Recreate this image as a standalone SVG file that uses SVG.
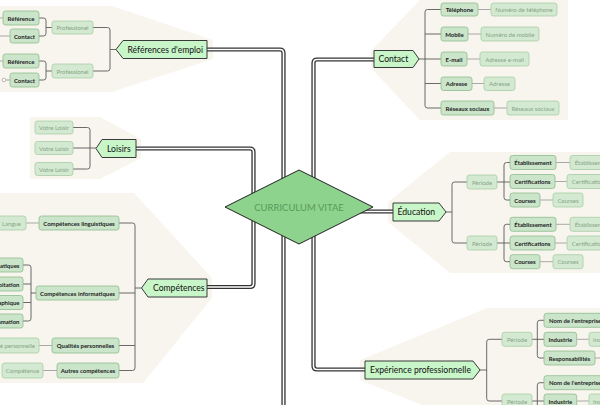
<svg xmlns="http://www.w3.org/2000/svg" xmlns:xlink="http://www.w3.org/1999/xlink" width="600" height="405" viewBox="0 0 600 405">
<style>
.bg{fill:#f8f5ee}
.l1 polygon{fill:#c8f6c8;stroke:#3a3a3a;stroke-width:1}
.l1 text{font-family:Lato,"Noto Sans",sans-serif;font-size:8.6px;fill:#111}
.lab rect{fill:#cbe5ca;stroke:#8dbb8c;stroke-width:0.8}
.lab text{font-family:Lato,"Noto Sans",sans-serif;font-size:6px;font-weight:bold;fill:#222;text-anchor:middle;dominant-baseline:central}
.val rect{fill:#d3e9d1;stroke:#a7cda5;stroke-width:0.8}
.val text{font-family:Lato,"Noto Sans",sans-serif;font-size:6px;fill:#86a586;text-anchor:middle;dominant-baseline:central}
.c2{fill:none;stroke:#5a5a5a;stroke-width:0.9}
.c3{fill:none;stroke:#a9a9a9;stroke-width:1}
.mo{fill:none;stroke:#333;stroke-width:4.2}
.mi{fill:none;stroke:#fff;stroke-width:1.6}
</style>
<defs>
<path id="m1" d="M207,49.5 H280 Q283.5,49.5 283.5,53 V410"/>
<path id="m2" d="M374,59.5 H317 Q313.5,59.5 313.5,63 V366 Q313.5,369.5 317,369.5 H365"/>
<path id="m3" d="M136,148.5 H250 Q253.5,148.5 253.5,152 V283.5 Q253.5,287 250,287 H207"/>
<path id="m4" d="M300,211.5 H393"/>
</defs>

<g id="backgrounds">
<polygon class="bg" points="0,6 112,6 213,40 213,59 112,92 0,92"/>
<polygon class="bg" points="30,117 100,117 141,139 141,158 100,179 30,179"/>
<polygon class="bg" points="0,193 134,193 212,278 212,298 143,383 0,383"/>
<polygon class="bg" points="420,0 568,0 568,120 420,120 371,68 371,51"/>
<polygon class="bg" points="450,152 600,152 600,273 450,273 388,222 388,202"/>
<polygon class="bg" points="487,308 600,308 600,405 422,405 360,380 360,360"/>
</g>

<g id="connectors">
<use xlink:href="#m1" class="mo"/><use xlink:href="#m1" class="mi"/>
<use xlink:href="#m2" class="mo"/><use xlink:href="#m2" class="mi"/>
<use xlink:href="#m3" class="mo"/><use xlink:href="#m3" class="mi"/>
<use xlink:href="#m4" class="mo"/><use xlink:href="#m4" class="mi"/>
<!-- Références -->
<path class="c2" d="M116,49.5 H110 M93,27.5 H107.5 Q110,27.5 110,30 V68.5 Q110,71 107.5,71 H93"/>
<path class="c2" d="M52,27.5 H46 M39,18 H43.5 Q46,18 46,20.5 V33.5 Q46,36 43.5,36 H39"/>
<path class="c2" d="M52,71 H46 M39,61 H43.5 Q46,61 46,63.5 V77.5 Q46,80 43.5,80 H39"/>
<path class="c3" d="M0,18 H3 M0,36 H10 M0,61 H3 M6,80 H10"/>
<circle cx="4" cy="80" r="1.8" fill="#fff" stroke="#999" stroke-width="0.7"/>
<!-- Loisirs -->
<path class="c2" d="M73,127.5 H87.5 Q90,127.5 90,130 V166.5 Q90,169 87.5,169 H73 M73,148 H96"/>
<!-- Compétences -->
<path class="c2" d="M119,223 H132.5 Q135,223 135,225.5 V368 Q135,370.5 132.5,370.5 H119 M119,293 H135 M119,345.5 H135 M141.5,288 H135"/>
<path class="c2" d="M23,265 H28.5 Q31,265 31,267.5 V318.5 Q31,321 28.5,321 H23 M23,284 H31 M23,302.5 H31 M31,293 H36"/>
<path class="c3" d="M26,223 H39 M39,345.5 H52 M43,370.5 H57"/>
<!-- Contact -->
<path class="c2" d="M419,59 H441 M441,9.5 H427.5 Q425,9.5 425,12 V105.5 Q425,108 427.5,108 H441 M425,34 H441 M425,83.5 H441"/>
<path class="c3" d="M478,9.5 H491 M468,34 H481 M467,59 H480 M472,83.5 H484 M494,108 H507"/>
<!-- Éducation -->
<path class="c2" d="M446,212 H452 M467,182 H454.5 Q452,182 452,184.5 V240.5 Q452,243 454.5,243 H467"/>
<path class="c2" d="M497,182 H510 M510,162.5 H506.5 Q504,162.5 504,165 V197.5 Q504,200 506.5,200 H510"/>
<path class="c2" d="M497,243 H510 M510,224.3 H506.5 Q504,224.3 504,226.8 V259.2 Q504,261.7 506.5,261.7 H510"/>
<path class="c3" d="M556,162.5 H570 M555,181.5 H567 M540,200 H553 M556,224.3 H570 M555,243 H567 M540,261.7 H553"/>
<!-- Expérience -->
<path class="c2" d="M480,370 H486.7 M502,339.3 H489.2 Q486.7,339.3 486.7,341.8 V398.5 Q486.7,401 489.2,401 H502"/>
<path class="c2" d="M532,339.3 H544 M544,320.3 H539.8 Q537.3,320.3 537.3,322.8 V355.5 Q537.3,358 539.8,358 H544"/>
<path class="c2" d="M532,401 H544 M544,382.7 H539.8 Q537.3,382.7 537.3,385.2 V410"/>
<path class="c3" d="M576.7,339.3 H589 M595,358 H605 M576.7,401 H589"/>
</g>

<g id="center">
<polygon points="225,207 299,170 373,207 299,244" fill="#8dd38d" stroke="#222" stroke-width="1"/>
<text x="299" y="207" font-family="Lato,'Noto Sans',sans-serif" font-size="9.5" fill="#5b995b" text-anchor="middle" dominant-baseline="central">CURRICULUM VITAE</text>
</g>

<g id="n-references" class="l1">
<polygon points="123,40.5 207,40.5 207,58.5 123,58.5 116,49.5"/>
<text x="127.5" y="52.6">Références d'emploi</text>
</g>
<g id="n-loisirs" class="l1">
<polygon points="102,139.5 136,139.5 136,157.5 102,157.5 96,148.5"/>
<text x="107" y="151.6">Loisirs</text>
</g>
<g id="n-competences" class="l1">
<polygon points="148,279 207,279 207,297 148,297 141.5,288"/>
<text x="153" y="291.1">Compétences</text>
</g>
<g id="n-contact" class="l1">
<polygon points="374,50.5 413,50.5 419,59 413,67.5 374,67.5"/>
<text x="378.5" y="62.1">Contact</text>
</g>
<g id="n-education" class="l1">
<polygon points="393,203 439,203 446,212 439,221 393,221"/>
<text x="397.5" y="215.1">Éducation</text>
</g>
<g id="n-experience" class="l1">
<polygon points="365,361 473,361 480,370 473,379 365,379"/>
<text x="370" y="373.1">Expérience professionnelle</text>
</g>

<!-- Références children -->
<g id="n-ref1" class="lab"><rect x="3" y="11" width="36" height="14" rx="2.5"/><text x="21" y="18">Référence</text></g>
<g id="n-con1" class="lab"><rect x="10" y="29" width="29" height="14" rx="2.5"/><text x="24.5" y="36">Contact</text></g>
<g id="n-pro1" class="val"><rect x="52" y="21" width="41" height="13" rx="2.5"/><text x="72.5" y="27.5">Professionel</text></g>
<g id="n-ref2" class="lab"><rect x="3" y="54" width="36" height="14" rx="2.5"/><text x="21" y="61">Référence</text></g>
<g id="n-con2" class="lab"><rect x="10" y="73" width="29" height="14" rx="2.5"/><text x="24.5" y="80">Contact</text></g>
<g id="n-pro2" class="val"><rect x="52" y="64" width="41" height="14" rx="2.5"/><text x="72.5" y="71">Professionel</text></g>

<!-- Loisirs children -->
<g id="n-loi1" class="val"><rect x="35" y="121" width="38" height="13" rx="2.5"/><text x="54" y="127.5">Votre Loisir</text></g>
<g id="n-loi2" class="val"><rect x="35" y="141.5" width="38" height="13" rx="2.5"/><text x="54" y="148">Votre Loisir</text></g>
<g id="n-loi3" class="val"><rect x="35" y="162.5" width="38" height="13" rx="2.5"/><text x="54" y="169">Votre Loisir</text></g>

<!-- Compétences children -->
<g id="n-ling" class="lab"><rect x="39" y="216" width="80" height="14" rx="2.5"/><text x="79" y="223">Compétences linguistiques</text></g>
<g id="n-langue" class="val"><rect x="-4" y="216" width="30" height="14" rx="2.5"/><text x="11.5" y="223">Langue</text></g>
<g id="n-info" class="lab"><rect x="36" y="286" width="83" height="14" rx="2.5"/><text x="77.5" y="293">Compétences informatiques</text></g>
<g id="n-info1" class="lab"><rect x="-70" y="258" width="93" height="14" rx="2.5"/><text x="19.5" y="265" style="text-anchor:end">Langages informatiques</text></g>
<g id="n-info2" class="lab"><rect x="-70" y="277" width="93" height="14" rx="2.5"/><text x="19.5" y="284" style="text-anchor:end">Systèmes d'exploitation</text></g>
<g id="n-info3" class="lab"><rect x="-70" y="295.5" width="93" height="14" rx="2.5"/><text x="19.5" y="302.5" style="text-anchor:end">Conception graphique</text></g>
<g id="n-info4" class="lab"><rect x="-70" y="314" width="93" height="14" rx="2.5"/><text x="19.5" y="321" style="text-anchor:end">Programmation</text></g>
<g id="n-qual" class="lab"><rect x="52" y="338" width="67" height="15" rx="2.5"/><text x="85.5" y="345.5">Qualités personnelles</text></g>
<g id="n-qualv" class="val"><rect x="-30" y="338" width="69" height="15" rx="2.5"/><text x="35" y="345.5" style="text-anchor:end">Qualité personnelle</text></g>
<g id="n-autres" class="lab"><rect x="57" y="363" width="62" height="15" rx="2.5"/><text x="88" y="370.5">Autres compétences</text></g>
<g id="n-autresv" class="val"><rect x="2" y="363" width="41" height="15" rx="2.5"/><text x="22.5" y="370.5">Compétence</text></g>

<!-- Contact children -->
<g id="n-tel" class="lab"><rect x="441" y="3" width="37" height="13" rx="2.5"/><text x="459.5" y="9.5">Téléphone</text></g>
<g id="n-telv" class="val"><rect x="491" y="3" width="66" height="13" rx="2.5"/><text x="524" y="9.5">Numéro de téléphone</text></g>
<g id="n-mob" class="lab"><rect x="441" y="27" width="27" height="14" rx="2.5"/><text x="454.5" y="34">Mobile</text></g>
<g id="n-mobv" class="val"><rect x="481" y="27" width="58" height="14" rx="2.5"/><text x="510" y="34">Numéro de mobile</text></g>
<g id="n-mail" class="lab"><rect x="441" y="52" width="26" height="14" rx="2.5"/><text x="454" y="59">E-mail</text></g>
<g id="n-mailv" class="val"><rect x="480" y="52" width="49" height="14" rx="2.5"/><text x="504.5" y="59">Adresse e-mail</text></g>
<g id="n-adr" class="lab"><rect x="441" y="77" width="31" height="13.5" rx="2.5"/><text x="456.5" y="83.75">Adresse</text></g>
<g id="n-adrv" class="val"><rect x="484" y="77" width="31" height="13.5" rx="2.5"/><text x="499.5" y="83.75">Adresse</text></g>
<g id="n-res" class="lab"><rect x="441" y="101" width="53" height="14" rx="2.5"/><text x="467.5" y="108">Réseaux sociaux</text></g>
<g id="n-resv" class="val"><rect x="507" y="101" width="52" height="14" rx="2.5"/><text x="533" y="108">Réseaux sociaux</text></g>

<!-- Éducation children -->
<g id="n-per1" class="val"><rect x="467" y="175" width="30" height="14" rx="2.5"/><text x="482" y="182">Période</text></g>
<g id="n-eta1" class="lab"><rect x="510" y="155.5" width="46" height="14" rx="2.5"/><text x="533" y="162.5">Établissement</text></g>
<g id="n-eta1v" class="val"><rect x="570" y="155.5" width="46" height="14" rx="2.5"/><text x="593" y="162.5">Établissement</text></g>
<g id="n-cer1" class="lab"><rect x="510" y="174.5" width="45" height="14" rx="2.5"/><text x="532.5" y="181.5">Certifications</text></g>
<g id="n-cer1v" class="val"><rect x="567" y="174.5" width="45" height="14" rx="2.5"/><text x="589.5" y="181.5">Certifications</text></g>
<g id="n-cou1" class="lab"><rect x="510" y="193" width="30" height="14" rx="2.5"/><text x="525" y="200">Courses</text></g>
<g id="n-cou1v" class="val"><rect x="553" y="193" width="30" height="14" rx="2.5"/><text x="568" y="200">Courses</text></g>
<g id="n-per2" class="val"><rect x="467" y="236" width="30" height="14" rx="2.5"/><text x="482" y="243">Période</text></g>
<g id="n-eta2" class="lab"><rect x="510" y="217.3" width="46" height="14" rx="2.5"/><text x="533" y="224.3">Établissement</text></g>
<g id="n-eta2v" class="val"><rect x="570" y="217.3" width="46" height="14" rx="2.5"/><text x="593" y="224.3">Établissement</text></g>
<g id="n-cer2" class="lab"><rect x="510" y="236" width="45" height="14" rx="2.5"/><text x="532.5" y="243">Certifications</text></g>
<g id="n-cer2v" class="val"><rect x="567" y="236" width="45" height="14" rx="2.5"/><text x="589.5" y="243">Certifications</text></g>
<g id="n-cou2" class="lab"><rect x="510" y="254.7" width="30" height="14" rx="2.5"/><text x="525" y="261.7">Courses</text></g>
<g id="n-cou2v" class="val"><rect x="553" y="254.7" width="30" height="14" rx="2.5"/><text x="568" y="261.7">Courses</text></g>

<!-- Expérience children -->
<g id="n-eper1" class="val"><rect x="502" y="332.3" width="30" height="14" rx="2.5"/><text x="517" y="339.3">Période</text></g>
<g id="n-nom1" class="lab"><rect x="544" y="313.3" width="66" height="14" rx="2.5"/><text x="549" y="320.3" style="text-anchor:start">Nom de l'entreprise</text></g>
<g id="n-ind1" class="lab"><rect x="544" y="332.3" width="32.7" height="14" rx="2.5"/><text x="560.3" y="339.3">Industrie</text></g>
<g id="n-ind1v" class="val"><rect x="589" y="332.3" width="33" height="14" rx="2.5"/><text x="593" y="339.3" style="text-anchor:start">Industrie</text></g>
<g id="n-resp1" class="lab"><rect x="544" y="351" width="51" height="14" rx="2.5"/><text x="569.5" y="358">Responsabilités</text></g>
<g id="n-eper2" class="val"><rect x="502" y="394" width="30" height="14" rx="2.5"/><text x="517" y="401">Période</text></g>
<g id="n-nom2" class="lab"><rect x="544" y="375.7" width="66" height="14" rx="2.5"/><text x="549" y="382.7" style="text-anchor:start">Nom de l'entreprise</text></g>
<g id="n-ind2" class="lab"><rect x="544" y="394" width="32.7" height="14" rx="2.5"/><text x="560.3" y="401">Industrie</text></g>
<g id="n-ind2v" class="val"><rect x="589" y="394" width="33" height="14" rx="2.5"/><text x="593" y="401" style="text-anchor:start">Industrie</text></g>
</svg>
